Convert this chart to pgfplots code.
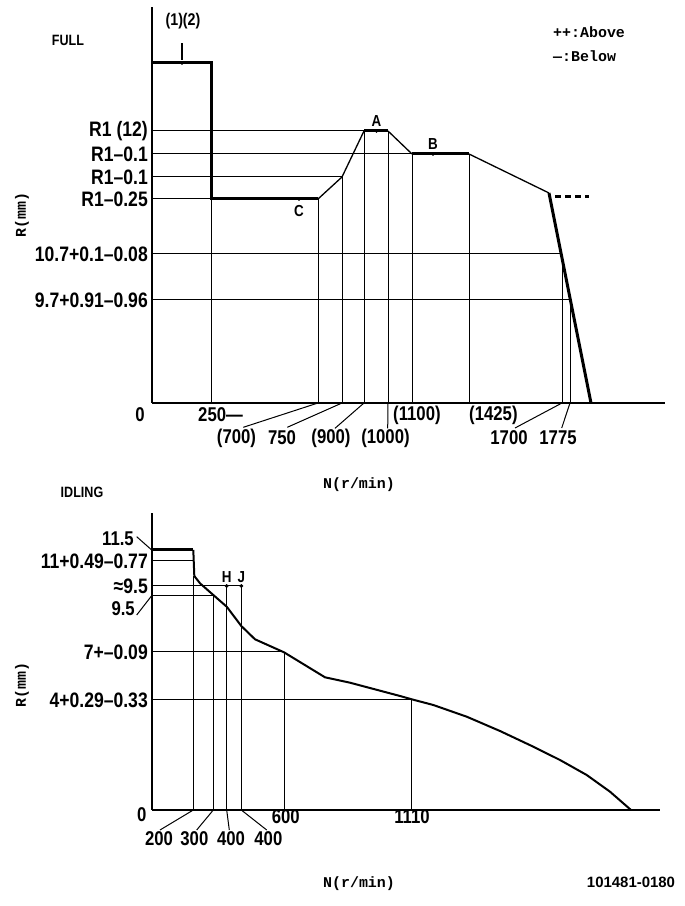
\documentclass[border=0pt]{standalone}
\usepackage{fontspec}
\setmainfont{Liberation Sans}[FakeStretch=0.84]
\newfontfamily\plainsans{Liberation Sans}
\newfontfamily\monof{Liberation Mono}
\usepackage{pgfplots}
\pgfplotsset{compat=1.18}
\newcommand\tlf{\bfseries\fontsize{20}{20}\selectfont}
\newcommand\ylf{\bfseries\fontsize{21}{21}\selectfont}
\newcommand\mf{\monof\bfseries\fontsize{15}{15}\selectfont}
\tikzset{
  tl/.style={black, line width=1bp},
  tk/.style={black, line width=3bp},
  dots/.style={black, only marks, mark=*, mark size=1.7bp},
  lab/.style={font=\tlf, inner sep=0pt},
  ltr/.style={font=\bfseries\fontsize{16}{16}\selectfont, inner sep=0pt},
}
\pgfplotsset{
  chart/.style={scale only axis, axis lines=left, axis line style={-, line width=1.2bp},
    enlargelimits=false, clip=false, xtick=\empty, major tick length=0pt,
    yticklabel style={font=\ylf, anchor=east, inner sep=0pt, xshift=-4bp},
    /pgf/number format/assume math mode=true,
    label style={font=\mf}},
}
\begin{document}
\begin{tikzpicture}
\path[use as bounding box] (0bp,0bp) rectangle (685bp,906bp);
% ---------------- FULL ----------------
\begin{axis}[chart, at={(152bp,503bp)}, anchor=south west, width=513bp, height=396bp,
  xmin=152, xmax=665, ymin=503, ymax=899,
  ytick={606,652,707,729,752,775},
  yticklabels={9.7+0.91–0.96, 10.7+0.1–0.08, R1–0.25, R1–0.1, R1–0.1, R1 (12)},
  xlabel={N(r/min)}, xlabel style={at={(axis description cs:0.4035,-0.207)}, anchor=center},
  ylabel={R(mm)}, ylabel style={at={(axis description cs:-0.2534,0.4747)}, anchor=center}]
% horizontal reference lines
\addplot[tl, no markers] coordinates {(152,775)(364,775)};
\addplot[tl, no markers] coordinates {(152,752)(412,752)};
\addplot[tl, no markers] coordinates {(152,729)(342,729)};
\addplot[tl, no markers] coordinates {(152,707)(318,707)};
\addplot[tl, no markers] coordinates {(152,652)(562,652)};
\addplot[tl, no markers] coordinates {(152,606)(570,606)};
% vertical reference lines
\addplot[tl, no markers] coordinates {(211,503)(211,707)};
\addplot[tl, no markers] coordinates {(318,503)(318,707)};
\addplot[tl, no markers] coordinates {(342,503)(342,729)};
\addplot[tl, no markers] coordinates {(364,503)(364,775)};
\addplot[tl, no markers] coordinates {(388,503)(388,775)};
\addplot[tl, no markers] coordinates {(412,503)(412,752)};
\addplot[tl, no markers] coordinates {(469,503)(469,752)};
\addplot[tl, no markers] coordinates {(562,503)(562,652)};
\addplot[tl, no markers] coordinates {(570,503)(570,606)};
% curve
\addplot[tk, no markers] coordinates {(152,843)(211,843)(211,707)(318,707)};
\addplot[tl, no markers, line width=1.3bp] coordinates {(318,707)(342,729)(364,775)};
\addplot[tk, no markers] coordinates {(364,775)(388,775)};
\addplot[tl, no markers, line width=1.3bp] coordinates {(388,775)(412,752)};
\addplot[tk, no markers] coordinates {(412,752)(469,752)};
\addplot[tl, no markers, line width=1.3bp] coordinates {(469,752)(549,713)};
\addplot[tk, no markers] coordinates {(549,713)(591,503)};
\addplot[black, line width=3bp, dash pattern=on 6bp off 4bp, no markers] coordinates {(555,709)(589,709)};
\addplot[tl, no markers, line width=1.5bp] coordinates {(182,846)(182,863)};
\addplot[dots] coordinates {(182,843)(299,707)(376.5,775)(433,752)};
% point labels
\node[font=\bfseries\fontsize{17}{17}\selectfont, inner sep=0pt] at (183,885) {(1)(2)};
\node[ltr, anchor=south] at (376.5,779) {A};
\node[ltr, anchor=south] at (433,756) {B};
\node[ltr, anchor=north] at (299,701) {C};
\node[font=\bfseries\fontsize{15}{15}\selectfont, inner sep=0pt] at (68,866) {FULL};
\node[font=\mf, inner sep=0pt, anchor=west] at (553,874) {++:Above};
\node[font=\mf, inner sep=0pt, anchor=west] at (553,850) {—:Below};
% x labels
\node[lab] at (140,491) {0};
\node[lab, anchor=west] at (198,491) {250—};
\node[lab, anchor=west] at (393,491) {(1100)};
\node[lab, anchor=west] at (469,491) {(1425)};
\node[lab] at (236.5,468) {(700)};
\node[lab] at (282,468) {750};
\node[lab] at (331,468) {(900)};
\node[lab] at (385.5,468) {(1000)};
\node[lab] at (509,468) {1700};
\node[lab] at (558,468) {1775};
\draw[line width=1bp] (318,503) -- (243.3,478.7);
\draw[line width=1bp] (342,503) -- (287.3,478.7);
\draw[line width=1bp] (364,503) -- (335,477.7);
\draw[line width=1bp] (388,503) -- (387.7,477.7);
\draw[line width=1bp] (562,503) -- (515,478);
\draw[line width=1bp] (570,503) -- (561.7,478);
\end{axis}
% ---------------- IDLING ----------------
\begin{axis}[chart, at={(152bp,96bp)}, anchor=south west, width=508bp, height=297bp,
  xmin=152, xmax=660, ymin=96, ymax=393,
  ytick={206,254,320,345},
  yticklabels={4+0.29–0.33, 7+–0.09, ≈9.5, 11+0.49–0.77},
  xlabel={N(r/min)}, xlabel style={at={(axis description cs:0.4075,-0.249)}, anchor=center},
  ylabel={R(mm)}, ylabel style={at={(axis description cs:-0.2559,0.4209)}, anchor=center}]
\addplot[tl, no markers] coordinates {(152,345)(193.3,345)};
\addplot[tl, no markers] coordinates {(152,320)(241.3,320)};
\addplot[tl, no markers] coordinates {(152,310.3)(213.3,310.3)};
\addplot[tl, no markers] coordinates {(152,254)(284,254)};
\addplot[tl, no markers] coordinates {(152,206)(411,206)};
\addplot[tl, no markers] coordinates {(193.3,96)(193.3,330)};
\addplot[tl, no markers] coordinates {(213.3,96)(213.3,310.3)};
\addplot[tl, no markers] coordinates {(226.7,96)(226.7,320)};
\addplot[tl, no markers] coordinates {(241.3,96)(241.3,320)};
\addplot[tl, no markers] coordinates {(284,96)(284,254)};
\addplot[tl, no markers] coordinates {(411,96)(411,206)};
\addplot[tk, no markers] coordinates {(152,356)(193.3,356)};
\addplot[black, line width=2bp, no markers] coordinates {(193.3,356)(194.3,330)(200,322.7)(213.3,311)(226.7,299.3)(241.3,280)(255,266.7)(284,253.7)(325,228.7)(350,223.3)(400,210)(411.7,206.7)(433.3,201)(466.7,189.3)(500,175)(533.3,159.3)(560,146)(586.7,131)(610,114.3)(631,96)};
\addplot[dots] coordinates {(226.7,320)(241.3,320)};
\node[ltr, anchor=south] at (226.7,323) {H};
\node[ltr, anchor=south] at (241.3,323) {J};
\node[font=\bfseries\fontsize{15}{15}\selectfont, inner sep=0pt] at (82,414) {IDLING};
\node[lab, anchor=east] at (134,367) {11.5};
\draw[line width=1bp] (136.7,369.3) -- (151.7,356);
\node[lab, anchor=east] at (135,297) {9.5};
\draw[line width=1bp] (136.7,291) -- (151.7,310.3);
\node[lab] at (141.7,91) {0};
\node[lab] at (285.8,89.3) {600};
\node[lab] at (412,89.3) {1110};
\node[lab] at (159,67.7) {200};
\node[lab] at (194.4,67.7) {300};
\node[lab] at (231,67.7) {400};
\node[lab] at (268.4,67.7) {400};
\draw[line width=1bp] (193.3,96) -- (160,76);
\draw[line width=1bp] (213.3,96) -- (196.7,76);
\draw[line width=1bp] (226.7,96) -- (229.3,76);
\draw[line width=1bp] (241.3,96) -- (266.7,76);
\node[font=\plainsans\bfseries\fontsize{15}{15}\selectfont, inner sep=0pt] at (631,24) {101481-0180};
\end{axis}
\end{tikzpicture}
\end{document}
